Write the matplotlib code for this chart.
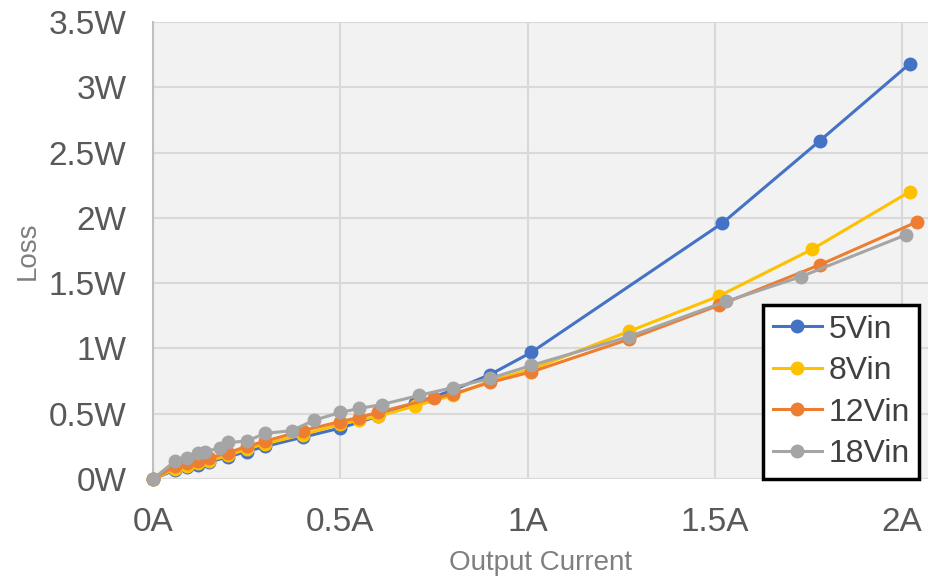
import numpy as np
import matplotlib.pyplot as plt

#==============================
#          DATA
#==============================
# output current (A) and loss (W) per input voltage
x5 = [0, 0.06, 0.09, 0.12, 0.15, 0.2, 0.25, 0.3, 0.4, 0.5, 0.6, 0.7, 0.8, 0.9, 1.01, 1.52, 1.78, 2.02]
y5 = [0, 0.07, 0.09, 0.11, 0.13, 0.17, 0.21, 0.25, 0.32, 0.39, 0.48, 0.58, 0.68, 0.8, 0.97, 1.96, 2.59, 3.18]

x8 = [0, 0.06, 0.09, 0.12, 0.15, 0.2, 0.25, 0.3, 0.4, 0.5, 0.55, 0.6, 0.7, 0.8, 0.9, 1.01, 1.27, 1.51, 1.76, 2.02]
y8 = [0, 0.08, 0.1, 0.12, 0.14, 0.18, 0.23, 0.27, 0.34, 0.42, 0.45, 0.48, 0.56, 0.64, 0.75, 0.84, 1.13, 1.4, 1.76, 2.2]

x12 = [0, 0.06, 0.09, 0.12, 0.15, 0.2, 0.25, 0.3, 0.4, 0.5, 0.55, 0.6, 0.75, 0.8, 0.9, 1.01, 1.27, 1.51, 1.78, 2.04]
y12 = [0, 0.1, 0.12, 0.14, 0.16, 0.2, 0.25, 0.29, 0.37, 0.44, 0.47, 0.51, 0.62, 0.65, 0.74, 0.82, 1.07, 1.33, 1.64, 1.97]

x18 = [0, 0.06, 0.09, 0.12, 0.14, 0.18, 0.2, 0.25, 0.3, 0.37, 0.43, 0.5, 0.55, 0.61, 0.71, 0.8, 0.9, 1.01, 1.27, 1.53, 1.73, 2.01]
y18 = [0, 0.14, 0.16, 0.2, 0.21, 0.24, 0.28, 0.29, 0.35, 0.37, 0.45, 0.51, 0.54, 0.57, 0.64, 0.7, 0.77, 0.87, 1.09, 1.36, 1.55, 1.87]

labels = ["5Vin", "8Vin", "12Vin", "18Vin"]
colors = ["#4472C4", "#FFC000", "#ED7D31", "#A5A5A5"]

xticks = [0, 0.5, 1, 1.5, 2]
xticklabels = ["0A", "0.5A", "1A", "1.5A", "2A"]
yticks = [0, 0.5, 1, 1.5, 2, 2.5, 3, 3.5]
yticklabels = ["0W", "0.5W", "1W", "1.5W", "2W", "2.5W", "3W", "3.5W"]

#==============================
#          PLOT
#==============================
plt.rcParams['font.family'] = ['Liberation Sans', 'DejaVu Sans']

fig = plt.figure(figsize=(9.3, 5.78), dpi=100)
ax = fig.add_axes([153/930, 1-479/578, 775/930, 457/578])
ax.set_facecolor('#f2f2f2')

series = [(x5, y5), (x8, y8), (x12, y12), (x18, y18)]
for (xs, ys), lab, c in zip(series, labels, colors):
    ax.plot(xs, ys, '-o', color=c, lw=2.2, ms=9, label=lab, clip_on=False, zorder=3)

ax.set_xlim(0, 775/374.6)
ax.set_ylim(0, 3.5)
ax.set_xticks(xticks)
ax.set_xticklabels(xticklabels)
ax.set_yticks(yticks)
ax.set_yticklabels(yticklabels)
ax.grid(True, color='#d9d9d9', lw=1.5)
ax.set_axisbelow(True)
ax.tick_params(length=0, labelsize=24, labelcolor='#595959')
ax.tick_params(axis='y', pad=19)
ax.tick_params(axis='x', pad=20)

for s in ['top', 'right', 'bottom']:
    ax.spines[s].set_visible(False)
ax.spines['left'].set_color('#bfbfbf')
ax.spines['left'].set_linewidth(1.5)

ax.set_xlabel("Output Current", fontsize=20, color='#7f7f7f', labelpad=9)
ax.set_ylabel("Loss", fontsize=20, color='#7f7f7f', labelpad=6)

leg = ax.legend(loc='upper left', bbox_to_anchor=(763/930, 1-305/578),
                bbox_transform=fig.transFigure, borderaxespad=0, fontsize=23,
                frameon=True, fancybox=False, handlelength=1.55, handletextpad=0.2,
                labelspacing=0.36, borderpad=0.3, labelcolor='#404040')
leg.get_frame().set_edgecolor('black')
leg.get_frame().set_linewidth(2.5)
leg.get_frame().set_facecolor('white')
leg.get_frame().set_alpha(1)

fig.savefig("out.png", dpi=100)
